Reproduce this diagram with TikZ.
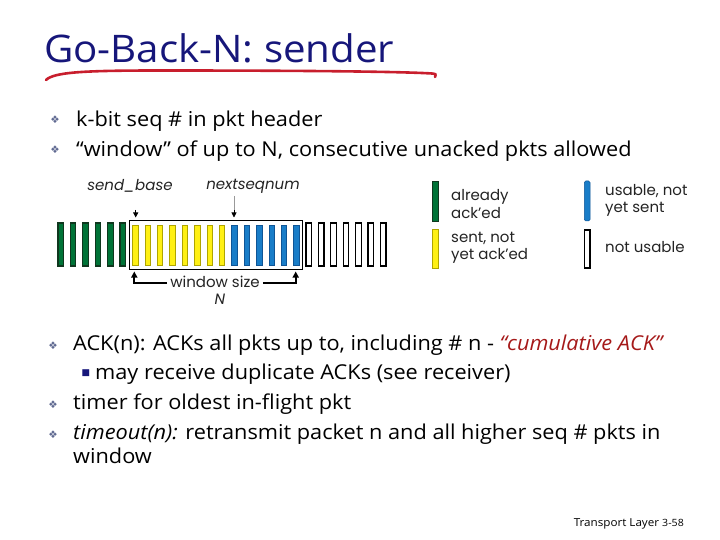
\documentclass[tikz,border=0pt]{standalone}
\usepackage{fontspec}
\setmainfont{Open Sans}[FakeStretch=1.06]
\newfontfamily\dfont{Poppins}
\newfontfamily\symf{DejaVu Sans}
\usetikzlibrary{arrows.meta}
\definecolor{navy}{RGB}{22,22,122}
\definecolor{ulred}{RGB}{200,30,45}
\definecolor{dred}{RGB}{165,25,25}
\definecolor{bulc}{RGB}{95,105,145}
\definecolor{gfill}{RGB}{0,115,55}
\definecolor{gline}{RGB}{15,55,30}
\definecolor{yfill}{RGB}{255,240,20}
\definecolor{yline}{RGB}{175,165,0}
\definecolor{bfill}{RGB}{25,125,200}
\definecolor{bline}{RGB}{15,85,150}
\definecolor{dtext}{RGB}{35,35,35}
\begin{document}
\begin{tikzpicture}[x=1pt,y=-1pt,
  txt/.style={anchor=base west, inner sep=0pt, text=black, font=\fontsize{20.5}{24}\selectfont},
  bul/.style={anchor=center, inner sep=0pt, text=bulc, font=\symf\fontsize{10.5}{10.5}\selectfont},
  dlab/.style={inner sep=0pt, text=dtext, font=\dfont\fontsize{15}{17.5}\selectfont},
  ilab/.style={dlab, font=\dfont\itshape\fontsize{15}{17.5}\selectfont},
  gbar/.style={fill=gfill, draw=gline, line width=1.1pt},
  ybar/.style={fill=yfill, draw=yline, line width=0.6pt},
  bbar/.style={fill=bfill, draw=bline, line width=0.5pt},
  wbar/.style={fill=white, draw=black, line width=1.2pt},
  tip/.style={-{Triangle[width=5pt,length=5pt]}},
  warr/.style={-{Triangle[width=6pt,length=6pt]}, line width=1.7pt, black}
]
\useasboundingbox (0,0) rectangle (720,540);
% title
\node[anchor=base west, inner sep=0pt, text=navy, font=\fontsize{38}{40}\selectfont] (title) at (44,63) {Go-Back-N: sender};
\draw[ulred, line width=2.6pt, line cap=round]
  (46,80) .. controls (54,72) and (85,70.5) .. (160,70.5)
  .. controls (300,70.5) and (400,71.5) .. (432,73.5)
  .. controls (436,74) .. (435,77);
% top bullets
\node[bul] (bu1) at (55,120) {❖};
\node[txt] (t1) at (76,127) {k-bit seq \# in pkt header};
\node[bul] (bu2) at (55,150) {❖};
\node[txt] (t2) at (76,157) {“window” of up to N, consecutive unacked pkts allowed};
% packet row
\foreach \i in {0,...,5}  \draw[gbar] (58+12.4*\i,223) rectangle ++(5.5,43);
\foreach \i in {6,...,13} \draw[ybar] (58+12.4*\i,225) rectangle ++(5.5,40);
\foreach \i in {14,...,19} \draw[bbar] (58+12.4*\i,225) rectangle ++(5.5,40);
\foreach \i in {20,...,26} \draw[wbar] (58+12.4*\i,223) rectangle ++(5.5,43);
\draw[black, line width=0.9pt] (129.3,220) rectangle (302.7,269.3);
% labels above
\node[ilab] (sb) at (130,186) {send\_base};
\node[ilab] (ns) at (253,186) {nextseqnum};
\coordinate (sbt) at (135.7,217.5);
\coordinate (nst) at (234,217.5);
\draw[tip, line width=0.8pt] (135.7,210) -- (sbt);
\draw[black!40, line width=0.5pt] (234,196) -- (234,211);
\draw[tip, line width=0.8pt] (234,210.5) -- (nst);
% window size
\node[dlab] (ws) at (215,281.5) {window size};
\node[ilab] (nn) at (220,299) {N};
\coordinate (wl) at (134.3,271.5);
\coordinate (wr) at (295.7,271.5);
\draw[warr] ([xshift=-3pt,yshift=-1.5pt]ws.west) -| (wl);
\draw[warr] ([xshift=3pt,yshift=-1.5pt]ws.east) -| (wr);
% legend
\draw[gbar, line width=0.6pt] (432.3,181.7) rectangle (438,221.7);
\node[dlab, anchor=west, align=left] (lg1) at (451,204) {already\\ack’ed};
\draw[ybar, line width=0.4pt] (432.3,229.3) rectangle (438,268.3);
\node[dlab, anchor=west, align=left] (lg2) at (451,248) {sent, not\\yet ack’ed};
\draw[bbar, rounded corners=1.5pt] (584.3,181) rectangle (590,221);
\node[dlab, anchor=west, align=left] (lg3) at (605,200.5) {usable, not\\yet sent};
\draw[wbar] (584.8,230) rectangle (590,268);
\node[dlab, anchor=west, align=left] (lg4) at (605,247) {not usable};
% bottom bullets
\node[bul] (bu3) at (53,346) {❖};
\node[txt] (t3) at (73,350) {ACK(n): ACKs all pkts up to, including \# n - \textcolor{dred}{\itshape “cumulative ACK”}};
\node[anchor=center, inner sep=0pt, text=navy, font=\symf\fontsize{9}{9}\selectfont] (sq) at (86,373) {■};
\node[txt] (t4) at (95,379.5) {may receive duplicate ACKs (see receiver)};
\node[bul] (bu4) at (53,405) {❖};
\node[txt] (t5) at (73,409) {timer for oldest in-flight pkt};
\node[bul] (bu5) at (53,435) {❖};
\node[txt, align=left, font=\fontsize{20.5}{23.7}\selectfont] (t6) at (73,463) {\textit{timeout(n):} retransmit packet n and all higher seq \# pkts in\\window};
% footer
\node[anchor=base east, inner sep=0pt, text=black] (foot) at (684,526) {\fontsize{11}{13}\selectfont Transport Layer \fontsize{10}{12}\selectfont 3-58};
\end{tikzpicture}
\end{document}
